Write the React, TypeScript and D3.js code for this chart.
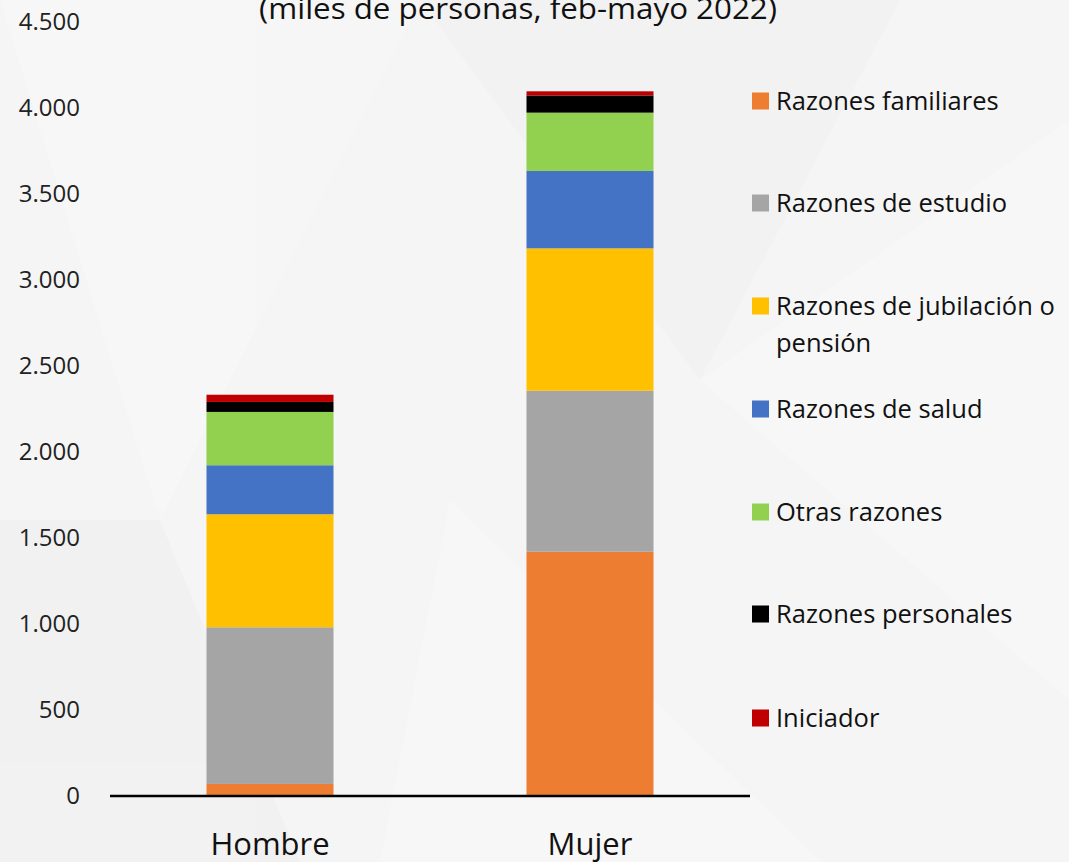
import * as d3 from "d3"

const categories = ["Hombre", "Mujer"]

const seriesNames = [
  "Razones familiares",
  "Razones de estudio",
  "Razones de jubilación o pensión",
  "Razones de salud",
  "Otras razones",
  "Razones personales",
  "Iniciador",
]

// miles de personas (Hombre, Mujer)
const familiares = [70, 1420]
const estudio = [911, 936]
const jubilacion = [657, 828]
const salud = [285, 450]
const otras = [310, 339]
const personales = [58, 100]
const iniciador = [42, 24]

const yTicks = [0, 500, 1000, 1500, 2000, 2500, 3000, 3500, 4000, 4500]

const colours = ["#ed7d31", "#a5a5a5", "#ffc000", "#4472c4", "#92d050", "#000000", "#c00000"]

const allSeries = [familiares, estudio, jubilacion, salud, otras, personales, iniciador]

const W = 1069
const H = 862
const font = "'Open Sans', 'Noto Sans', sans-serif"

export default function App() {
  const rows = categories.map((c, i) => {
    const r: any = { cat: c }
    seriesNames.forEach((s, k) => (r[s] = allSeries[k][i]))
    return r
  })
  const stacked = d3.stack().keys(seriesNames)(rows)

  const x = d3.scalePoint().domain(categories).range([110, 750]).padding(0.5)
  const barW = 127
  const y = d3.scaleLinear().domain([0, 4500]).range([796, 22])

  const fmt = (v: number) => d3.format(",")(v).replace(/,/g, ".")

  const legendY = [101, 203, 306, 409, 512, 614, 718]

  return (
    <svg width={W} height={H} style={{ position: "absolute", left: 0, top: 0 }} fontFamily={font}>
      <rect width={W} height={H} fill="#f5f5f5" />
      {/* faint background facets */}
      <g opacity={0.6}>
        <polygon points="0,0 420,0 160,520" fill="#f8f8f8" />
        <polygon points="420,0 900,0 700,380" fill="#f1f1f1" />
        <polygon points="700,380 1069,120 1069,700" fill="#f9f9f9" />
        <polygon points="0,520 160,520 300,862 0,862" fill="#f0f0f0" />
        <polygon points="450,500 820,862 380,862" fill="#f9f9f9" />
      </g>

      <text x={518} y={19} textAnchor="middle" fontSize={30} fill="#111" textLength={518} lengthAdjust="spacingAndGlyphs">
        (miles de personas, feb-mayo 2022)
      </text>

      {yTicks.map((t) => (
        <text key={t} x={80} y={y(t)} dy="0.35em" textAnchor="end" fontSize={24} fill="#222">
          {fmt(t)}
        </text>
      ))}

      {stacked.map((layer, k) => (
        <g key={layer.key} fill={colours[k]}>
          {layer.map((d, i) => (
            <rect
              key={i}
              x={(x(categories[i]) as number) - barW / 2}
              y={y(d[1])}
              width={barW}
              height={y(d[0]) - y(d[1])}
            />
          ))}
        </g>
      ))}

      <line x1={110} x2={750} y1={y(0)} y2={y(0)} stroke="#000" strokeWidth={2.5} />

      {categories.map((c) => (
        <text key={c} x={x(c)} y={855} textAnchor="middle" fontSize={31} fill="#111">
          {c}
        </text>
      ))}

      {seriesNames.map((s, k) => {
        const ly = legendY[k]
        const lines = k === 2 ? ["Razones de jubilación o", "pensión"] : [s]
        return (
          <g key={s}>
            <rect x={752} y={ly - 8.5} width={17} height={17} fill={colours[k]} />
            {lines.map((l, j) => (
              <text key={j} x={776} y={ly + j * 37} dy="0.35em" fontSize={25.5} fill="#111">
                {l}
              </text>
            ))}
          </g>
        )
      })}
    </svg>
  )
}
